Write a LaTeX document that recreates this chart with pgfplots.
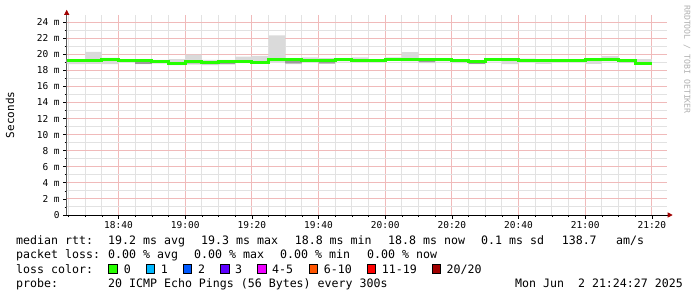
\documentclass[border=0pt]{standalone}
\usepackage{fontspec}
\setmainfont{DejaVu Sans Mono}
\usepackage{pgfplots}
\pgfplotsset{compat=1.18}
\usepackage{pgfplotstable}
\usepgfplotslibrary{fillbetween}
\usetikzlibrary{arrows.meta}

\definecolor{loss0}{HTML}{26FF00}
\definecolor{loss1}{HTML}{00B8FF}
\definecolor{loss2}{HTML}{0059FF}
\definecolor{loss3}{HTML}{5E00FF}
\definecolor{loss45}{HTML}{EE00FF}
\definecolor{loss610}{HTML}{FF5500}
\definecolor{loss1119}{HTML}{FF0000}
\definecolor{loss20}{HTML}{A10000}
\definecolor{majgrid}{HTML}{F0BABA}
\definecolor{mingrid}{HTML}{E2E2E2}
\definecolor{smokelight}{HTML}{DADADA}
\definecolor{smokedark}{HTML}{9C9C9C}
\definecolor{arrowcol}{HTML}{A00000}
\definecolor{wmark}{HTML}{B0B0B0}

% bins of 5 minutes; x = minutes after 18:00 (start of bin)
\pgfplotstableread{
x lo hi dlo dhi med
24.45 18.75 19.35 19.25 19.25 19.25
30 18.80 20.30 19.20 19.20 19.20
35 18.75 19.55 19.35 19.35 19.35
40 19.20 19.35 19.27 19.27 19.27
45 18.75 19.30 18.80 19.15 19.17
50 18.85 19.30 18.90 19.12 19.15
55 18.65 19.40 18.70 18.90 18.90
60 18.70 19.95 18.85 19.02 19.08
65 18.65 19.30 18.75 19.05 18.95
70 18.70 19.30 18.80 19.10 19.15
75 18.90 19.70 19.10 19.10 19.10
80 18.80 19.80 19.00 19.00 19.00
85 19.00 22.35 19.33 19.33 19.33
90 18.75 19.40 18.85 19.20 19.30
95 19.00 19.60 19.25 19.25 19.25
100 18.80 19.50 18.85 19.10 19.17
105 19.10 19.40 19.30 19.30 19.30
110 19.00 19.60 19.20 19.20 19.20
115 19.00 19.30 19.17 19.17 19.17
120 19.30 19.60 19.35 19.35 19.35
125 19.10 20.25 19.30 19.30 19.30
130 18.90 19.40 19.00 19.20 19.30
135 19.10 19.40 19.33 19.33 19.33
140 18.90 19.30 19.20 19.20 19.20
145 18.75 19.20 18.80 19.00 19.10
150 19.10 19.45 19.33 19.33 19.33
155 18.75 19.50 19.33 19.33 19.33
160 19.00 19.45 19.25 19.25 19.25
165 18.80 19.30 19.17 19.17 19.17
170 19.00 19.30 19.17 19.17 19.17
175 19.00 19.30 19.17 19.17 19.17
180 18.80 19.45 19.30 19.30 19.30
185 19.10 19.75 19.35 19.35 19.35
190 18.95 19.30 19.00 19.10 19.17
195 18.70 19.40 18.83 18.83 18.83
200 18.70 19.40 18.83 18.83 18.83
}\smoke

\newcommand{\legfont}{\fontsize{11.6bp}{14bp}\selectfont}
\newcommand{\tickfont}{\fontsize{9.5bp}{11bp}\selectfont}

\begin{document}
\begin{tikzpicture}
\begin{axis}[
  at={(66.7bp,-215bp)}, anchor=south west,
  scale only axis, width=600bp, height=200.2bp,
  xmin=24.45, xmax=204.45, ymin=0, ymax=24.9,
  axis lines=left,
  x axis line style={black, line width=0.8bp, shorten >=-6bp, -{Triangle[length=5bp,width=5bp,color=arrowcol]}},
  y axis line style={black!65, line width=0.8bp, shorten >=-5bp, -{Triangle[length=5bp,width=5bp,color=arrowcol]}},
  xtick={40,60,...,200},
  xticklabels={18:40,19:00,19:20,19:40,20:00,20:20,20:40,21:00,21:20},
  minor xtick={25,30,35,45,50,55,65,70,75,85,90,95,105,110,115,125,130,135,145,150,155,165,170,175,185,190,195},
  ytick={0,2,...,24},
  yticklabels={0,2 m,4 m,6 m,8 m,10 m,12 m,14 m,16 m,18 m,20 m,22 m,24 m},
  minor ytick={1,3,...,23},
  grid=both,
  major grid style={majgrid, line width=1bp},
  minor grid style={mingrid, line width=1bp},
  tick align=outside,
  major tick length=3.5bp, minor tick length=2bp,
  tick style={black, line width=0.7bp},
  xticklabel style={font=\tickfont, anchor=base, yshift=-10bp},
  yticklabel style={font=\tickfont, anchor=east},
  ylabel={Seconds},
  every axis y label/.style={at={(axis description cs:-0.0945,0.5)}, rotate=90, anchor=center, font=\fontsize{11bp}{13bp}\selectfont},
]
\addplot[name path=lo, const plot, draw=none, forget plot] table[x=x,y=lo]{\smoke};
\addplot[name path=hi, const plot, draw=none, forget plot] table[x=x,y=hi]{\smoke};
\addplot[smokelight, forget plot] fill between[of=hi and lo];
\addplot[name path=dlo, const plot, draw=none, forget plot] table[x=x,y=dlo]{\smoke};
\addplot[name path=dhi, const plot, draw=none, forget plot] table[x=x,y=dhi]{\smoke};
\addplot[smokedark, forget plot] fill between[of=dhi and dlo];
\addplot[loss0, line width=3bp, const plot] table[x=x,y=med]{\smoke};
\end{axis}

% watermark
\node[rotate=-90, anchor=west, inner sep=0, text=wmark, font=\fontsize{8.2bp}{9bp}\selectfont] at (687bp,-5bp) {RRDTOOL / TOBI OETIKER};

% legend lines
\begin{scope}[every node/.style={anchor=base west, inner sep=0, font=\legfont}]
\node at (16bp,-244.3bp) {median rtt:};
\node at (108bp,-244.3bp) {19.2 ms avg};
\node at (201bp,-244.3bp) {19.3 ms max};
\node at (294.6bp,-244.3bp) {18.8 ms min};
\node at (388bp,-244.3bp) {18.8 ms now};
\node at (481bp,-244.3bp) {0.1 ms sd};
\node at (561.6bp,-244.3bp) {138.7};
\node at (616bp,-244.3bp) {am/s};

\node at (16bp,-258.8bp) {packet loss:};
\node at (108bp,-258.8bp) {0.00 \% avg};
\node at (194bp,-258.8bp) {0.00 \% max};
\node at (280bp,-258.8bp) {0.00 \% min};
\node at (367bp,-258.8bp) {0.00 \% now};

\node at (16bp,-273.3bp) {loss color:};
\node at (123.7bp,-273.3bp) {0};
\node at (160.7bp,-273.3bp) {1};
\node at (197.8bp,-273.3bp) {2};
\node at (235bp,-273.3bp) {3};
\node at (272bp,-273.3bp) {4-5};
\node at (323.7bp,-273.3bp) {6-10};
\node at (381.7bp,-273.3bp) {11-19};
\node at (446.4bp,-273.3bp) {20/20};

\node at (16bp,-287.8bp) {probe:};
\node at (108bp,-287.8bp) {20 ICMP Echo Pings (56 Bytes) every 300s};
\node at (515bp,-287.8bp) {Mon Jun~~2 21:24:27 2025};
\end{scope}
\foreach \bx/\col in {108.5/loss0,146/loss1,183/loss2,220.5/loss3,257.6/loss45,309/loss610,367/loss1119,432/loss20}{
  \filldraw[fill=\col, draw=black, line width=0.7bp] (\bx bp,-273.3bp) rectangle ++(8.5bp,8.5bp);
}
\pgfresetboundingbox
\path[use as bounding box] (0bp,0bp) rectangle (697bp,-297bp);
\end{tikzpicture}
\end{document}
